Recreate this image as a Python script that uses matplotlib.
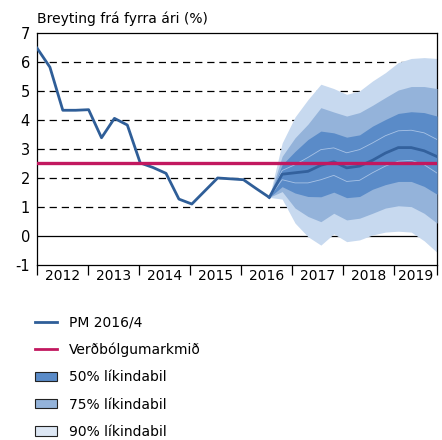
import numpy as np
import matplotlib
matplotlib.use('Agg')
import matplotlib.pyplot as plt
from matplotlib.patches import Patch
from matplotlib.lines import Line2D

plt.rcParams['font.family'] = ['DejaVu Sans']
plt.rcParams['axes.unicode_minus'] = False

# ---- data (quarterly, 2012Q1 = index 0 ... 2019Q4 = index 31) ----
years = ['2012', '2013', '2014', '2015', '2016', '2017', '2018', '2019']
actual = [6.48, 5.82, 4.33, 4.33, 4.35, 3.38, 4.05, 3.82, 2.51, 2.35,
          2.15, 1.26, 1.09, 1.54, 1.99, 1.96, 1.93, 1.62, 1.32]
# forecast from index 18 to 31
forecast = [1.32, 2.12, 2.17, 2.22, 2.43, 2.55, 2.34, 2.40, 2.60, 2.85,
            3.04, 3.04, 2.93, 2.73]
u90 = [1.32, 3.20, 4.10, 4.70, 5.23, 5.08, 4.88, 5.00, 5.34, 5.63, 5.98, 6.12, 6.15, 6.12]
u75 = [1.32, 2.74, 3.38, 3.85, 4.42, 4.27, 4.13, 4.25, 4.50, 4.77, 5.03, 5.15, 5.15, 5.08]
u50 = [1.32, 2.45, 2.91, 3.32, 3.61, 3.55, 3.40, 3.48, 3.78, 4.01, 4.22, 4.28, 4.25, 4.13]
u25 = [1.32, 2.25, 2.45, 2.70, 2.97, 3.03, 2.86, 2.97, 3.20, 3.45, 3.62, 3.64, 3.55, 3.32]
l25 = [1.32, 1.93, 1.82, 1.82, 1.93, 2.08, 1.87, 1.91, 2.17, 2.40, 2.57, 2.60, 2.45, 2.16]
l50 = [1.32, 1.69, 1.47, 1.35, 1.34, 1.50, 1.31, 1.35, 1.60, 1.76, 1.87, 1.87, 1.70, 1.43]
l75 = [1.32, 1.52, 0.95, 0.66, 0.48, 0.77, 0.54, 0.60, 0.77, 0.95, 1.03, 1.00, 0.77, 0.43]
l90 = [1.32, 1.26, 0.43, -0.04, -0.33, 0.06, -0.21, -0.15, 0.02, 0.12, 0.15, 0.12, -0.18, -0.58]
target = 2.5

labels = ['PM 2016/4', 'Verðbólgumarkmið', '50% líkindabil', '75% líkindabil', '90% líkindabil']

# ---- styling ----
c_line = '#2f5e98'
c_target = '#c2185f'
c50, c75, c90 = '#5a8bc8', '#94b3da', '#c7d9ef'
c90_leg = '#dde7f4'
fs = 10

fig = plt.figure(figsize=(4.42, 4.40), dpi=100)
ax = fig.add_axes([37/442, 1-264.5/440, 400/442, 231.5/440])

xa = np.arange(len(actual))
xf = np.arange(len(actual)-1, len(actual)-1+len(forecast))

# grid
for g in range(1, 7):
    ax.axhline(g, color='black', lw=0.9, dashes=(5.8, 3.9), zorder=1)
ax.axhline(0, color='black', lw=0.9, zorder=1)

ax.fill_between(xf, l90, u90, color=c90, lw=0, zorder=2)
ax.fill_between(xf, l75, u75, color=c75, lw=0, zorder=3)
ax.fill_between(xf, l50, u50, color=c50, lw=0, zorder=4)
ax.plot(xf, u25, color='#a8c3e6', lw=0.6, zorder=5)
ax.plot(xf, l25, color='#a8c3e6', lw=0.6, zorder=5)

ax.plot(xa, actual, color=c_line, lw=2, zorder=6)
ax.plot(xf, forecast, color='#33619d', lw=2, zorder=6)
ax.axhline(target, color=c_target, lw=2.4, zorder=7)

ax.set_xlim(0, 31)
ax.set_ylim(-1, 7)
ax.set_yticks(range(-1, 8))
ax.tick_params(axis='y', length=0, pad=5, labelsize=fs + 0.5)

edges = [k*3.95 for k in range(0, 8)] + [31]
ax.set_xticks(edges)
ax.set_xticklabels([])
ax.tick_params(axis='x', which='major', length=7, direction='out', width=0.9)
mids = [(edges[i]+edges[i+1])/2 for i in range(len(years))]
ax.set_xticks(mids, minor=True)
ax.set_xticklabels(years, minor=True, fontsize=fs)
ax.tick_params(axis='x', which='minor', length=0, pad=3)

for s in ax.spines.values():
    s.set_linewidth(0.9)

fig.text(37/442, 1-23/440, 'Breyting frá fyrra ári (%)', fontsize=fs,
         ha='left', va='baseline')

handles = [Line2D([], [], color=c_line, lw=2),
           Line2D([], [], color=c_target, lw=2),
           Patch(facecolor=c50, edgecolor='#222222', lw=0.8),
           Patch(facecolor=c75, edgecolor='#222222', lw=0.8),
           Patch(facecolor=c90_leg, edgecolor='#222222', lw=0.8)]
fig.legend(handles, labels, loc='upper left', bbox_to_anchor=(29/442, 1-310/440),
           frameon=False, fontsize=fs, handlelength=1.6, handleheight=0.65,
           handletextpad=0.85, labelspacing=0.95, borderaxespad=0)

fig.savefig('out.png', dpi=100)
